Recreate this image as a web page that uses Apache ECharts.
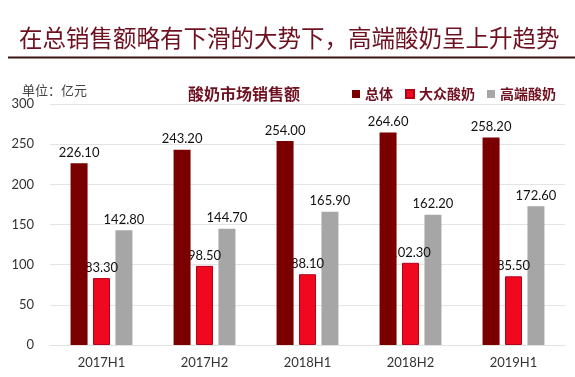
<!DOCTYPE html>
<html>
<head>
<meta charset="utf-8">
<script src="https://cdn.jsdelivr.net/npm/echarts@6/dist/echarts.min.js"></script>
<style>html,body{margin:0;padding:0;background:#fff;}#c{width:575px;height:377px;}</style>
</head>
<body>
<div id="c"></div>
<script>
var categories = ['2017H1', '2017H2', '2018H1', '2018H2', '2019H1'];
var seriesNames = ['总体', '大众酸奶', '高端酸奶'];
var totalValues = [226.10, 243.20, 254.00, 264.60, 258.20];
var massValues = [83.30, 98.50, 88.10, 102.30, 85.50];
var premiumValues = [142.80, 144.70, 165.90, 162.20, 172.60];
var yTicks = [0, 50, 100, 150, 200, 250, 300];

var chart = echarts.init(document.getElementById('c'));
var numFont = 'Lato, "Noto Sans", sans-serif';
var cjk = '"Noto Sans CJK SC", sans-serif';
function lbl() {
  return {show: true, position: 'top', distance: 4, color: '#111', fontFamily: numFont, fontSize: 13,
    formatter: function (p) { return p.value.toFixed(2); }};
}
chart.setOption({
  animation: false,
  backgroundColor: '#fff',
  title: [
    {text: '在总销售额略有下滑的大势下，高端酸奶呈上升趋势', left: 14, top: 21,
     textStyle: {fontFamily: cjk, fontSize: 23.5, fontWeight: 'normal', color: '#6e1020'}},
    {text: '单位：亿元', left: 17, top: 79,
     textStyle: {fontFamily: cjk, fontSize: 13, fontWeight: 'normal', color: '#444'}},
    {text: '酸奶市场销售额', left: 183, top: 81,
     textStyle: {fontFamily: cjk, fontSize: 16, fontWeight: 'bold', color: '#6e1020'}}
  ],
  graphic: [
    {type: 'line', shape: {x1: 8, y1: 57.5, x2: 575, y2: 57.5}, style: {stroke: '#3a1414', lineWidth: 2}}
  ],
  legend: {
    data: seriesNames, left: 347, top: 82, itemWidth: 8, itemHeight: 8, itemGap: 12,
    icon: 'rect',
    textStyle: {fontFamily: cjk, fontSize: 14, fontWeight: 'bold', color: '#6e1020'}
  },
  grid: {left: 50, right: 10, top: 104, bottom: 32},
  xAxis: {
    type: 'category', data: categories,
    axisLine: {show: true, lineStyle: {color: '#e2e2e2'}},
    axisTick: {show: false},
    axisLabel: {color: '#333', fontFamily: numFont, fontSize: 13, margin: 11}
  },
  yAxis: {
    type: 'value', min: yTicks[0], max: yTicks[yTicks.length - 1], interval: 50,
    axisLine: {show: false}, axisTick: {show: false},
    splitLine: {lineStyle: {color: '#e4e4e4'}},
    axisLabel: {color: '#333', fontFamily: numFont, fontSize: 13, margin: 16}
  },
  series: [
    {name: seriesNames[0], type: 'bar', data: totalValues, barWidth: 17, barGap: '32%', z: 3,
     itemStyle: {color: '#7a0000'}, label: lbl()},
    {name: seriesNames[1], type: 'bar', data: massValues, barWidth: 17, barGap: '32%', z: 2,
     itemStyle: {color: '#f0081e', borderColor: '#b5001a', borderWidth: 1}, label: lbl()},
    {name: seriesNames[2], type: 'bar', data: premiumValues, barWidth: 17, barGap: '32%', z: 1,
     itemStyle: {color: '#a6a6a6'}, label: lbl()}
  ]
});
</script>
</body>
</html>
